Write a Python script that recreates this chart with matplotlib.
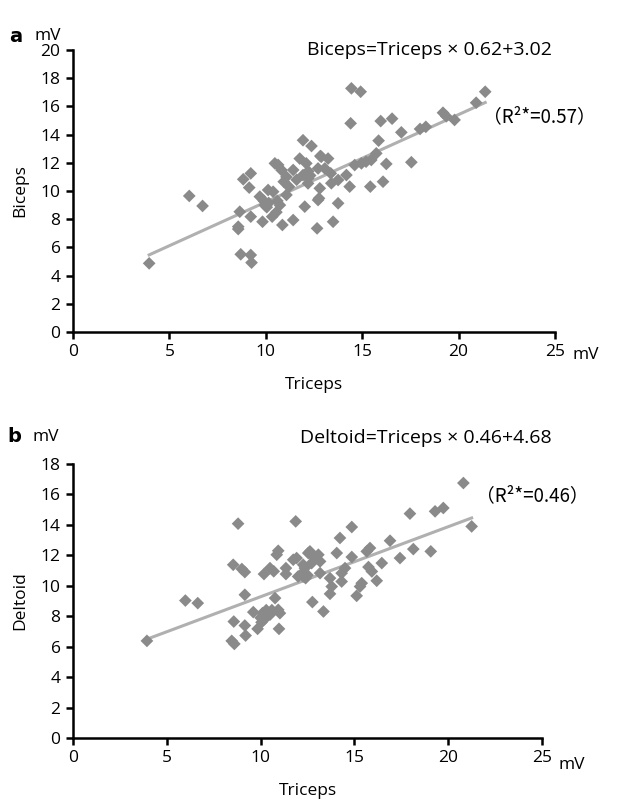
import numpy as np
import matplotlib
matplotlib.use('Agg')
import matplotlib.pyplot as plt

plt.rcParams['font.family'] = ['Open Sans', 'Noto Sans CJK JP', 'DejaVu Sans']

# Panel a: triceps vs biceps (mV)
tri_a = [3.95, 6.03, 6.72, 8.65, 8.57, 8.57, 8.83, 9.22, 9.14, 8.70, 9.22, 9.26,
         9.22, 9.69, 9.83, 10.12, 10.47, 10.64, 10.81, 9.95, 10.15, 10.05, 10.38,
         10.33, 10.55, 10.73, 10.86, 10.6, 10.93, 11.07, 11.07, 11.42, 11.42, 11.76,
         11.93, 12.37, 12.1, 11.93, 12.02, 12.2, 12.3, 12.2, 12.19, 12.71, 12.8,
         12.71, 12.66, 12.88, 13.23, 13.4, 13.49, 13.75, 13.75, 14.44, 14.92, 14.4,
         15.96, 16.55, 17.03, 15.85, 18.0, 18.3, 19.19, 19.36, 19.79, 20.91, 21.38,
         17.55, 16.25, 15.73, 15.2, 14.96, 14.61, 15.47, 14.18, 14.35, 13.37, 12.83,
         15.42, 16.08, 12.76, 13.06, 11.2, 11.6, 9.9]
bic_a = [4.87, 9.65, 8.94, 8.53, 7.47, 7.3, 10.83, 11.25, 10.24, 5.51, 5.46, 4.92,
         8.18, 9.6, 7.82, 10.07, 11.96, 11.85, 11.49, 9.0, 9.15, 8.85, 9.95,
         8.18, 8.5, 9.0, 7.59, 9.3, 10.66, 11.0, 9.72, 11.49, 7.94, 12.3,
         13.6, 13.19, 11.96, 11.13, 8.89, 11.4, 11.1, 10.9, 10.54, 11.6, 10.19,
         9.36, 7.35, 12.43, 12.3, 10.55, 7.82, 10.78, 9.13, 17.28, 17.04, 14.8,
         14.96, 15.13, 14.16, 13.57, 14.4, 14.55, 15.55, 15.3, 15.04, 16.26, 17.04,
         12.04, 11.92, 12.67, 12.08, 11.96, 11.84, 12.2, 11.13, 10.31, 11.25, 12.48,
         10.31, 10.66, 9.48, 11.6, 10.3, 10.8, 9.3]
slope_a, icpt_a, r2_a = 0.62, 3.02, 0.57

# Panel b: triceps vs deltoid (mV)
tri_b = [3.94, 5.99, 6.65, 8.80, 8.54, 9.0, 9.16, 9.16, 8.57, 9.16, 9.2, 8.46, 8.6,
         9.61, 9.84, 10.0, 10.1, 10.3, 10.05, 10.2, 10.18, 10.5, 10.7, 10.77, 10.86,
         10.94, 10.94, 11.03, 10.98, 10.6, 10.5, 11.35, 11.35, 11.74, 11.92, 11.87,
         12.0, 12.2, 12.27, 12.54, 12.72, 12.81, 13.08, 13.17, 12.5, 12.4, 12.76,
         13.35, 13.17, 13.7, 13.7, 14.06, 14.23, 20.81, 21.25, 19.74, 19.3, 17.96,
         14.86, 16.9, 15.83, 15.66, 18.14, 19.07, 17.43, 14.86, 16.46, 15.75, 15.93,
         14.5, 14.32, 16.19, 15.39, 15.3, 15.12, 14.32, 13.79, 12.63, 12.36, 12.27]
del_b = [6.38, 9.03, 8.86, 14.08, 11.38, 11.1, 10.9, 9.41, 7.65, 7.39, 6.73, 6.38, 6.18,
         8.27, 7.17, 7.9, 8.2, 8.4, 7.6, 7.8, 10.77, 11.16, 10.95, 9.19, 12.04,
         12.3, 8.42, 8.2, 7.17, 8.4, 8.1, 11.16, 10.77, 11.71, 11.82, 14.23,
         10.61, 10.8, 11.38, 12.15, 11.49, 11.93, 12.04, 11.6, 10.7, 10.5, 8.93,
         8.31, 10.83, 10.5, 9.47, 12.15, 13.14, 16.75, 13.9, 15.11, 14.89, 14.74,
         13.86, 12.96, 12.48, 12.26, 12.41, 12.26, 11.82, 11.89, 11.49, 11.23, 10.94,
         11.16, 10.83, 10.33, 10.17, 9.95, 9.34, 10.28, 9.95, 12.26, 11.16, 10.61]
slope_b, icpt_b, r2_b = 0.46, 4.68, 0.46

fig = plt.figure(figsize=(6.18, 8.06), dpi=100)

def panel(rect, x, y, slope, icpt, ymax, ylabel, letter, eq, r2, mv_xy, eq_xy, r2_xy, lab_xy):
    ax = fig.add_axes(rect)
    ax.scatter(x, y, marker='D', s=42, color='#8a8a8a', edgecolors='none', zorder=3)
    xs = np.array([min(x), max(x)])
    ax.plot(xs, slope * xs + icpt, color='#b0b0b0', lw=2.2, zorder=2)
    ax.set_xlim(0, 25)
    ax.set_ylim(0, ymax)
    ax.set_xticks(range(0, 26, 5))
    ax.set_yticks(range(0, ymax + 1, 2))
    for s in ['top', 'right']:
        ax.spines[s].set_visible(False)
    for s in ['left', 'bottom']:
        ax.spines[s].set_linewidth(1.8)
    ax.tick_params(direction='out', length=5, width=1.8, labelsize=12.5, pad=4)
    ax.set_xlabel('Triceps', fontsize=12.5, labelpad=12)
    ax.set_ylabel(ylabel, fontsize=12.5, labelpad=9)
    fig.text(lab_xy[0] / 618, 1 - lab_xy[1] / 806, letter, fontsize=14, fontweight='bold',
             family='DejaVu Sans', va='center')
    fig.text((lab_xy[0] + 26) / 618, 1 - lab_xy[1] / 806, 'mV', fontsize=12.5, va='center')
    fig.text(mv_xy[0] / 618, 1 - mv_xy[1] / 806, 'mV', fontsize=12.5, va='center')
    fig.text(eq_xy[0] / 618, 1 - eq_xy[1] / 806, eq, fontsize=14, va='center')
    fig.text(r2_xy[0] / 618, 1 - r2_xy[1] / 806, r2, fontsize=13.5, va='center',
             family=['Noto Sans CJK JP', 'Open Sans'])
    return ax

panel([73 / 618, 1 - 332 / 806, 482 / 618, 282 / 806], tri_a, bic_a, slope_a, icpt_a, 20,
      'Biceps', 'a', f'Biceps=Triceps \u00d7 {slope_a:.2f}+{icpt_a:.2f}',
      f'\uff08R\u00b2*={r2_a:.2f}\uff09', (573, 355), (307, 50), (483, 117), (9, 36))
panel([73 / 618, 1 - 738 / 806, 469 / 618, 274 / 806], tri_b, del_b, slope_b, icpt_b, 18,
      'Deltoid', 'b', f'Deltoid=Triceps \u00d7 {slope_b:.2f}+{icpt_b:.2f}',
      f'\uff08R\u00b2*={r2_b:.2f}\uff09', (558, 765), (300, 438), (476, 496), (7, 437))

fig.savefig('out.png', dpi=100)
